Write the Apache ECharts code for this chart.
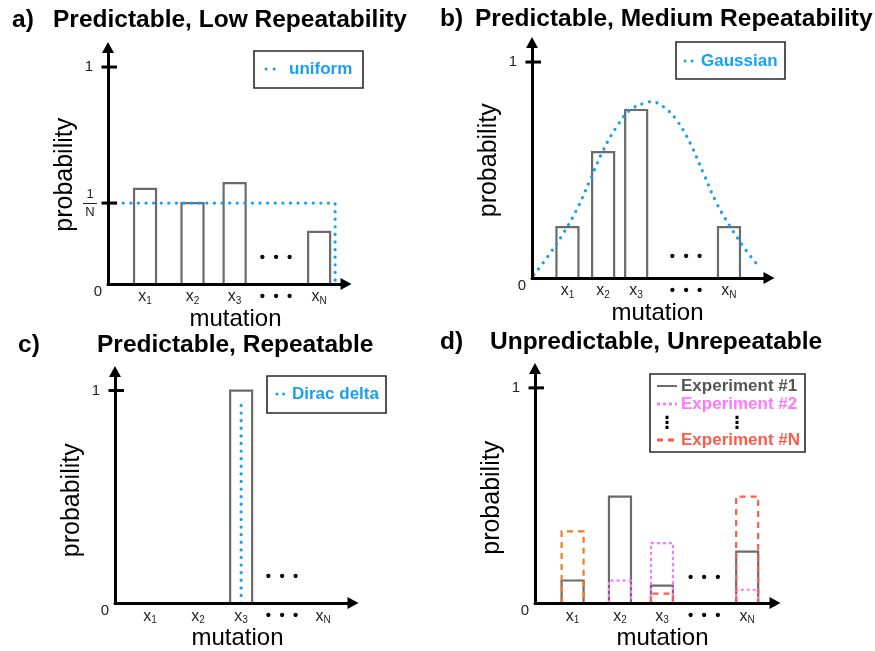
<!DOCTYPE html>
<html><head><meta charset="utf-8">
<script src="https://cdn.jsdelivr.net/npm/echarts@6/dist/echarts.min.js"></script>
<style>html,body{margin:0;padding:0;background:#fff}#c{width:875px;height:651px}</style>
</head><body><div id="c"></div>
<script>
// ---------- DATA ----------
const xBase = ['x', 'x', 'x', '•  •  •', 'x'];
const xSub  = ['1', '2', '3', '', 'N'];

// panel a : Predictable, Low Repeatability
const posA = [15.3, 34.9, 52.3, 69.4, 87.2];
const barsA = [0.438, 0.373, 0.465, null, 0.240];
const uniformLevel = 0.373;
const uniformEndX = 93.8;

// panel b : Predictable, Medium Repeatability
const posB = [14.7, 29.5, 43.2, 63.9, 81.7];
const barsB = [0.236, 0.583, 0.778, null, 0.236];
const gaussX = [0.8, 7.5, 13.0, 18.5, 24.1, 29.6, 35.1, 40.7, 47.6, 49.7, 54.5, 60.0, 65.6, 71.1, 76.6, 82.2, 87.7, 94.6];
const gaussY = [0.015, 0.114, 0.207, 0.315, 0.454, 0.593, 0.700, 0.778, 0.813, 0.816, 0.793, 0.731, 0.624, 0.485, 0.346, 0.238, 0.145, 0.045];

// panel c : Predictable, Repeatable
const posC = [14.5, 34.3, 52.1, 69.0, 86.0];
const barsC = [null, null, 1.0, null, null];
const diracTop = 0.95;

// panel d : Unpredictable, Unrepeatable
const posD = [15.4, 34.8, 52.0, 69.3, 86.9];
const exp1 = [0.105, 0.495, 0.081, null, 0.239];
const exp2 = [null, 0.104, 0.279, null, 0.062];
const expN = [0.333, null, 0.044, null, 0.495];

// height of the "• • •" continuation marks per panel
const dotsLevel = [0.12, 0.097, 0.124, 0.116];

// ---------- STYLE ----------
const FONT = '"Liberation Sans", Arial, Helvetica, sans-serif';
const BLUE = '#18a0f5', PINK = '#ff77ff', RED = '#ff5b4a', ORANGE = '#f47b20', GREY = '#6b6b6b';
const expNColors = [ORANGE, RED, RED, RED, RED];
const BAR_HALF = 11;
const X_MAX = 98.3, Y_MAX = 1.09;

const grids = [
  {left: 108, top: 47.5, width: 238, height: 236.5},
  {left: 532, top: 42.6, width: 237, height: 235.4},
  {left: 115, top: 371.4, width: 238, height: 237.6},
  {left: 535, top: 368.5, width: 240, height: 236}
];
const positions = [posA, posB, posC, posD];
const nameShiftX = [17, 14, 7, 15];
const nameShiftY = [18, 0, 26, 24];
const yLabelValues = [[0, uniformLevel, 1], [0, 1], [0, 1], [0, 1]];

function xFormatter(pos) {
  return function (v) {
    const i = pos.findIndex(p => Math.abs(p - v) < 1e-6);
    if (i < 0) return '';
    if (xSub[i] === '') return '{d|' + xBase[i] + '}';
    return '{x|' + xBase[i] + '}{s|' + xSub[i] + '}';
  };
}
function yFormatter(v) {
  if (v === 0) return '{z|0}';
  if (v === 1) return '{o|1}';
  return '{f|1}\n{b|—}\n{f|N}';
}
const axisLineStyle = {
  show: true, onZero: false,
  lineStyle: {color: '#000', width: 3},
  symbol: ['none', 'triangle'], symbolSize: [12, 11]
};
const xAxes = positions.map((pos, k) => ({
  type: 'value', gridIndex: k, min: 0, max: X_MAX, z: 10,
  axisLine: axisLineStyle, axisTick: {show: false}, splitLine: {show: false},
  axisLabel: {
    customValues: pos, margin: 4, formatter: xFormatter(pos),
    rich: {
      x: {fontSize: 16, color: '#222', fontFamily: FONT, lineHeight: 18, verticalAlign: 'middle'},
      s: {fontSize: 10, color: '#222', fontFamily: FONT, lineHeight: 10, verticalAlign: 'bottom'},
      d: {fontSize: 15, fontWeight: 'bold', color: '#000', fontFamily: FONT, lineHeight: 18}
    }
  },
  name: 'mutation', nameLocation: 'middle', nameGap: 18,
  nameTextStyle: {fontSize: 24, color: '#000', fontFamily: FONT, padding: [0, 0, 0, nameShiftX[k]]}
}));
const yAxes = positions.map((pos, k) => ({
  type: 'value', gridIndex: k, min: 0, max: Y_MAX, z: 10,
  axisLine: axisLineStyle, axisTick: {show: false}, splitLine: {show: false},
  axisLabel: {
    customValues: yLabelValues[k], margin: 6, formatter: yFormatter,
    rich: {
      z: {fontSize: 15, color: '#222', fontFamily: FONT, padding: [16, 0, 0, 0]},
      o: {fontSize: 15, color: '#222', fontFamily: FONT, padding: [0, 9, 0, 0]},
      f: {fontSize: 13, color: '#222', fontFamily: FONT, lineHeight: 9, width: 14, align: 'center', padding: [0, 5, 0, 0]},
      b: {fontSize: 14, color: '#222', fontFamily: FONT, lineHeight: 9, width: 14, align: 'center', padding: [0, 5, 0, 0]}
    }
  },
  name: 'probability', nameLocation: 'middle', nameGap: 30, nameRotate: 90,
  nameTextStyle: {fontSize: 25, color: '#000', fontFamily: FONT, padding: [0, nameShiftY[k], 0, 0]}
}));

function barSeries(k, pos, vals, stroke, dash, colors) {
  return {
    type: 'custom', xAxisIndex: k, yAxisIndex: k, z: 3,
    data: pos.map((p, i) => [p, vals[i], i]).filter(d => d[1] != null),
    renderItem: function (params, api) {
      const p0 = api.coord([api.value(0), 0]);
      const p1 = api.coord([api.value(0), api.value(1)]);
      const c = colors ? colors[api.value(2)] : stroke;
      return {
        type: 'polyline',
        shape: {points: [[p0[0] - BAR_HALF, p0[1]], [p0[0] - BAR_HALF, p1[1]], [p0[0] + BAR_HALF, p1[1]], [p0[0] + BAR_HALF, p0[1]]]},
        style: {fill: null, stroke: c, lineWidth: 2.2, lineDash: dash || null}
      };
    }
  };
}
function tickSeries(k, vals) {
  return {
    type: 'custom', xAxisIndex: k, yAxisIndex: k, z: 12, clip: false,
    data: vals.map(v => [0, v]),
    renderItem: function (params, api) {
      const p = api.coord([0, api.value(1)]);
      return {type: 'line', shape: {x1: p[0] - 6.5, y1: p[1], x2: p[0] + 9, y2: p[1]}, style: {stroke: '#000', lineWidth: 3}};
    }
  };
}
function dotsSeries(k, pos) {
  return {
    type: 'custom', xAxisIndex: k, yAxisIndex: k, z: 5,
    data: [[pos[3], dotsLevel[k]]],
    renderItem: function (params, api) {
      const p = api.coord([api.value(0), api.value(1)]);
      return {type: 'text', style: {text: '•  •  •', x: p[0], y: p[1], textAlign: 'center', textVerticalAlign: 'middle', fontSize: 15, fontWeight: 'bold', fontFamily: FONT, fill: '#000'}};
    }
  };
}
function dottedLine(k, data, smooth) {
  return {
    type: 'line', xAxisIndex: k, yAxisIndex: k, z: 4, data: data, smooth: smooth || false,
    symbol: 'none', silent: true,
    lineStyle: {color: BLUE, width: 3.2, type: [0.1, 7.5], cap: 'round'}
  };
}

const series = [
  // a
  barSeries(0, posA, barsA, GREY),
  dottedLine(0, [[0, uniformLevel], [uniformEndX, uniformLevel], [uniformEndX, 0]]),
  tickSeries(0, [1, uniformLevel]),
  dotsSeries(0, posA),
  // b
  barSeries(1, posB, barsB, GREY),
  dottedLine(1, gaussX.map((x, i) => [x, gaussY[i]]), 0.4),
  tickSeries(1, [1]),
  dotsSeries(1, posB),
  // c
  barSeries(2, posC, barsC, GREY),
  dottedLine(2, [[posC[2], 0], [posC[2], diracTop]]),
  tickSeries(2, [1]),
  dotsSeries(2, posC),
  // d
  barSeries(3, posD, exp1, GREY),
  barSeries(3, posD, exp2, PINK, [3, 3]),
  barSeries(3, posD, expN, RED, [6, 5], expNColors),
  tickSeries(3, [1]),
  dotsSeries(3, posD)
];

const titleStyle = {fontSize: 24.5, fontWeight: 'bold', color: '#000', fontFamily: FONT};
const titles = [
  {text: 'a)', left: 12, top: 8},
  {text: 'Predictable, Low Repeatability', left: 53, top: 8},
  {text: 'b)', left: 440, top: 7},
  {text: 'Predictable, Medium Repeatability', left: 475, top: 7},
  {text: 'c)', left: 18, top: 333},
  {text: 'Predictable, Repeatable', left: 97, top: 333},
  {text: 'd)', left: 440, top: 330},
  {text: 'Unpredictable, Unrepeatable', left: 490, top: 330}
].map(t => Object.assign({padding: 0, textStyle: titleStyle}, t));

function legendBox(x, y, w, h) {
  return {type: 'rect', shape: {x: x, y: y, width: w, height: h}, style: {fill: '#fff', stroke: '#2a2a2a', lineWidth: 1.6}, z: 20};
}
function legText(t, x, y, color) {
  return {type: 'text', z: 21, style: {text: t, x: x, y: y, textAlign: 'left', textVerticalAlign: 'middle', fontSize: 17, fontWeight: 'bold', fontFamily: FONT, fill: color}};
}
function legLine(x1, x2, y, color, dash, cap, w) {
  return {type: 'line', z: 21, shape: {x1: x1, y1: y, x2: x2, y2: y}, style: {stroke: color, lineWidth: w || 3, lineDash: dash, lineCap: cap || 'butt'}};
}
function vdots(x, y) {
  return {type: 'text', z: 21, style: {text: '⋮', x: x, y: y, textAlign: 'center', textVerticalAlign: 'middle', fontSize: 17, fontWeight: 'bold', fontFamily: '"DejaVu Sans", sans-serif', fill: '#000'}};
}
const graphic = [
  legendBox(254, 51, 109, 37),
  legLine(266, 276, 69, BLUE, [0.1, 8], 'round', 3),
  legText('uniform', 289, 69, BLUE),
  legendBox(676, 42, 109, 37),
  legLine(685, 694, 61, BLUE, [0.1, 7], 'round', 3),
  legText('Gaussian', 701, 61, BLUE),
  legendBox(267, 376, 119, 37),
  legLine(277, 285, 394, BLUE, [0.1, 6.5], 'round', 3),
  legText('Dirac delta', 292, 394, BLUE),
  legendBox(650, 374, 155, 78),
  legLine(657, 677, 386, GREY, null, 'butt', 2),
  legText('Experiment #1', 681, 386, '#555'),
  legLine(657, 677, 404, PINK, [3, 3], 'butt', 3),
  legText('Experiment #2', 681, 404, PINK),
  vdots(667, 424), vdots(737, 424),
  legLine(657, 679, 440, RED, [6, 5], 'butt', 3),
  legText('Experiment #N', 681, 440, RED)
];

const chart = echarts.init(document.getElementById('c'), null, {renderer: 'canvas'});
chart.setOption({
  animation: false,
  backgroundColor: '#fff',
  title: titles,
  grid: grids,
  xAxis: xAxes,
  yAxis: yAxes,
  series: series,
  graphic: graphic
});
</script>
</body></html>
